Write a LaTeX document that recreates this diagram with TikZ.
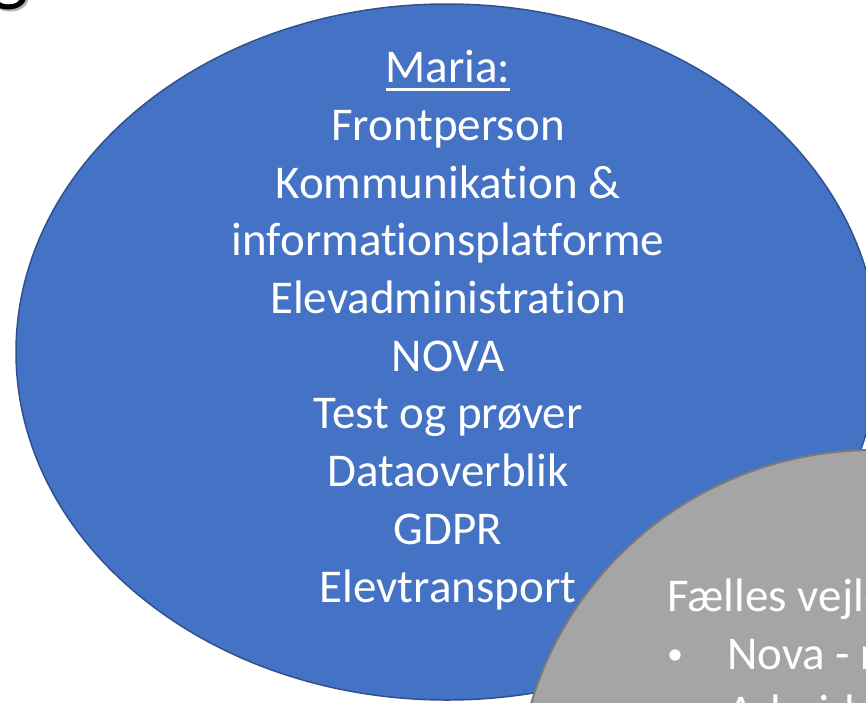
\documentclass[tikz,border=0pt]{standalone}
\usepackage{fontspec}
\usepackage{calc}
\setmainfont{Carlito}[Ligatures=NoCommon]

\definecolor{mariablue}{HTML}{4472C4}
\definecolor{mariaedge}{HTML}{2F528F}
\definecolor{faellesgrey}{HTML}{A5A5A5}
\definecolor{faellesedge}{HTML}{7A7A7A}

% thicker, lower underline as in the slide
\newcommand{\headul}[1]{\leavevmode\rlap{\rule[-8pt]{\widthof{#1}}{2.5pt}}#1}
% smaller bullet, then indent
\newcommand{\bul}{\makebox[60pt][l]{\raisebox{5pt}{\fontsize{32}{32}\selectfont •}}}

\tikzset{
  bluecirc/.style={fill=mariablue, draw=mariaedge, line width=1.5pt},
  greycirc/.style={fill=faellesgrey, draw=faellesedge, line width=2pt},
  whitetxt/.style={text=white, inner sep=0pt, font=\fontsize{47}{57.7}\selectfont},
  titletxt/.style={anchor=base east, inner sep=0pt, font=\fontsize{84}{100}\selectfont}
}

\begin{document}
\begin{tikzpicture}[x=1pt, y=-1pt]
		\useasboundingbox (0, 0) rectangle (866, 702);
		\clip (0, 0) rectangle (866, 702);
		
		% rest of the title, cut off at the top left
		\node[titletxt, text=black!30] (titleshade) at (31, -3) {g};
		\node[titletxt, text=black] (title) at (29, -5) {g};
		
		% big blue circle (base of the node = last line)
		\filldraw[bluecirc] (447, 352) ellipse [x radius=431pt, y radius=348pt];
		\node[whitetxt, align=center, anchor=base] (maria) at (448, 602)
		{\headul{Maria:}\\ Frontperson\\ Kommunikation \&\\ informationsplatforme\\
		 Elevadministration\\ NOVA\\ Test og prøver\\ Dataoverblik\\ GDPR\\ Elevtransport};
		
		% grey circle, lower right
		\filldraw[greycirc] (874, 802) ellipse [x radius=357pt, y radius=352pt];
		\node[whitetxt, align=left, anchor=base west] (faelles) at (667, 727)
		{Fælles vejledning\\
		 \bul Nova - registrering\\
		 \bul Arbejdsgange};
	\end{tikzpicture}
\end{document}
